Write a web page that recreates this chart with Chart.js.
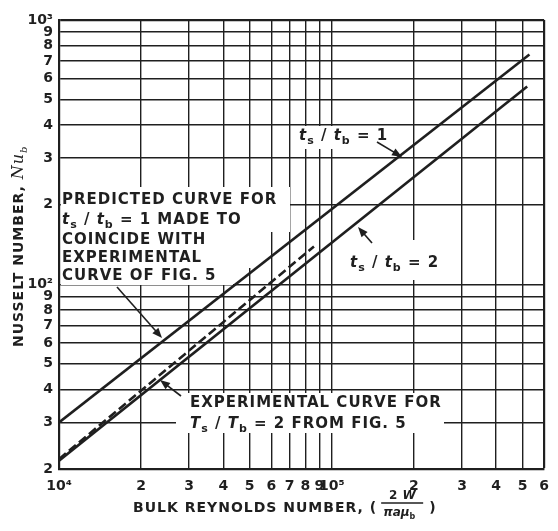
<!DOCTYPE html>
<html>
<head>
<meta charset="utf-8">
<script src="https://cdn.jsdelivr.net/npm/chart.js@4.4.0/dist/chart.umd.min.js"></script>
<style>
  html, body { margin: 0; padding: 0; background: #fff; }
</style>
</head>
<body>
<canvas id="nusseltChart" width="558" height="531"></canvas>
<script>
// Axis ticks (log-log paper)
const reTicks = [1e4, 2e4, 3e4, 4e4, 5e4, 6e4, 7e4, 8e4, 9e4, 1e5, 2e5, 3e5, 4e5, 5e5, 6e5];
const reTickLabels = ['10⁴', '2', '3', '4', '5', '6', '7', '8', '9', '10⁵', '2', '3', '4', '5', '6'];
const nuTicks = [20, 30, 40, 50, 60, 70, 80, 90, 100, 200, 300, 400, 500, 600, 700, 800, 900, 1000];
const nuTickLabels = ['2', '3', '4', '5', '6', '7', '8', '9', '10²', '2', '3', '4', '5', '6', '7', '8', '9', '10³'];

// Curves (straight lines on log-log paper)
const rePredicted1 = [1e4, 5.3e5];      // t_s/t_b = 1
const nuPredicted1 = [30, 740];
const rePredicted2 = [1e4, 5.2e5];      // t_s/t_b = 2
const nuPredicted2 = [21.5, 560];
const reExperimental = [1e4, 8.6e4];    // experimental curve, fig. 5
const nuExperimental = [21.8, 139];

const INK = '#1f1f1f';
const FONT = '"DejaVu Sans", sans-serif';

function toPoints(xs, ys) {
  return xs.map((x, i) => ({ x: x, y: ys[i] }));
}

// draws a row of text pieces: {t, italic, sub}
function drawRich(ctx, x, y, parts, size) {
  let cx = x;
  parts.forEach(p => {
    const s = p.sub ? Math.round(size * 0.7) : size;
    ctx.font = (p.italic ? 'italic ' : '') + 'bold ' + s + 'px ' + FONT;
    const dy = p.sub ? size * 0.35 : 0;
    ctx.fillText(p.t, cx, y + dy);
    cx += ctx.measureText(p.t).width;
  });
  return cx;
}

function arrow(ctx, x1, y1, x2, y2) {
  const a = Math.atan2(y2 - y1, x2 - x1);
  ctx.beginPath();
  ctx.moveTo(x1, y1);
  ctx.lineTo(x2 - 6 * Math.cos(a), y2 - 6 * Math.sin(a));
  ctx.stroke();
  ctx.beginPath();
  ctx.moveTo(x2, y2);
  ctx.lineTo(x2 - 10 * Math.cos(a) + 4 * Math.sin(a), y2 - 10 * Math.sin(a) - 4 * Math.cos(a));
  ctx.lineTo(x2 - 10 * Math.cos(a) - 4 * Math.sin(a), y2 - 10 * Math.sin(a) + 4 * Math.cos(a));
  ctx.closePath();
  ctx.fill();
}

const ts = (sub) => [{ t: 't', italic: true }, { t: sub, sub: true }];

// white patches behind the lettering, cutting the grid like on the original
const labelPatches = {
  id: 'labelPatches',
  beforeDatasetsDraw(chart) {
    const ctx = chart.ctx;
    ctx.save();
    ctx.fillStyle = '#fff';
    ctx.fillRect(61, 187, 229, 45);
    ctx.fillRect(61, 232, 196, 36);
    ctx.fillRect(61, 268, 172, 17);
    ctx.fillRect(176, 393, 268, 40);
    ctx.fillRect(296, 126, 96, 23);
    ctx.fillRect(345, 240, 92, 40);
    ctx.restore();
  }
};

const lettering = {
  id: 'lettering',
  afterDatasetsDraw(chart) {
    const ctx = chart.ctx;
    ctx.save();
    ctx.fillStyle = INK;
    ctx.strokeStyle = INK;
    ctx.textBaseline = 'middle';
    ctx.textAlign = 'left';
    ctx.letterSpacing = '1px';
    const sz = 15;

    drawRich(ctx, 62, 200, [{ t: 'PREDICTED CURVE FOR' }], sz);
    drawRich(ctx, 62, 220, ts('s').concat([{ t: ' / ' }], ts('b'), [{ t: ' = 1 MADE TO' }]), sz);
    drawRich(ctx, 62, 240, [{ t: 'COINCIDE WITH' }], sz);
    drawRich(ctx, 62, 258, [{ t: 'EXPERIMENTAL' }], sz);
    drawRich(ctx, 62, 276, [{ t: 'CURVE OF FIG. 5' }], sz);

    drawRich(ctx, 190, 403, [{ t: 'EXPERIMENTAL CURVE FOR' }], sz);
    drawRich(ctx, 190, 424, [{ t: 'T', italic: true }, { t: 's', sub: true }, { t: ' / ' },
      { t: 'T', italic: true }, { t: 'b', sub: true }, { t: ' = 2 FROM FIG. 5' }], sz);

    drawRich(ctx, 299, 136, ts('s').concat([{ t: ' / ' }], ts('b'), [{ t: ' = 1' }]), sz);
    drawRich(ctx, 350, 263, ts('s').concat([{ t: ' / ' }], ts('b'), [{ t: ' = 2' }]), sz);

    ctx.lineWidth = 1.6;
    arrow(ctx, 377, 142, 402, 157);
    arrow(ctx, 372, 243, 358, 227);
    arrow(ctx, 117, 287, 162, 338);
    arrow(ctx, 181, 396, 160, 380);

    // x axis title with the fraction
    ctx.letterSpacing = '1px';
    let x = drawRich(ctx, 133, 508, [{ t: 'BULK REYNOLDS NUMBER, (' }], 14);
    ctx.letterSpacing = '0px';
    ctx.textAlign = 'center';
    ctx.font = 'bold 12px ' + FONT;
    const fx = x + 24;
    ctx.fillText('2 ', fx - 6, 496);
    ctx.font = 'italic bold 12px ' + FONT;
    ctx.fillText('W', fx + 8, 496);
    ctx.lineWidth = 1.3;
    ctx.beginPath();
    ctx.moveTo(x + 4, 503);
    ctx.lineTo(x + 46, 503);
    ctx.stroke();
    ctx.textAlign = 'left';
    drawRich(ctx, x + 6, 513, [{ t: 'π', italic: true }, { t: 'a', italic: true }, { t: 'μ', italic: true }, { t: 'b', sub: true }], 12);
    ctx.font = 'bold 14px ' + FONT;
    ctx.fillText(')', x + 52, 508);

    // y axis title, rotated
    ctx.translate(19, 347);
    ctx.rotate(-Math.PI / 2);
    ctx.letterSpacing = '1px';
    let yx = drawRich(ctx, 0, 0, [{ t: 'NUSSELT NUMBER, ' }], 14);
    ctx.font = 'italic 16px "DejaVu Serif", serif';
    ctx.fillText('Nu', yx, 0);
    yx += ctx.measureText('Nu').width;
    ctx.font = 'italic 10px "DejaVu Serif", serif';
    ctx.fillText('b', yx, 5);
    ctx.restore();
  }
};

const ctx = document.getElementById('nusseltChart').getContext('2d');
const nusseltChart = new Chart(ctx, {
  type: 'line',
  data: {
    datasets: [
      {
        label: 't_s/t_b = 1',
        data: toPoints(rePredicted1, nuPredicted1),
        borderColor: INK,
        borderWidth: 2.6,
        pointRadius: 0
      },
      {
        label: 't_s/t_b = 2',
        data: toPoints(rePredicted2, nuPredicted2),
        borderColor: INK,
        borderWidth: 2.6,
        pointRadius: 0
      },
      {
        label: 'Experimental T_s/T_b = 2',
        data: toPoints(reExperimental, nuExperimental),
        borderColor: INK,
        borderWidth: 2.6,
        borderDash: [9, 4],
        pointRadius: 0
      }
    ]
  },
  options: {
    responsive: false,
    animation: false,
    layout: { padding: { top: 20, right: 7, left: 0, bottom: 0 } },
    plugins: {
      legend: { display: false },
      tooltip: { enabled: false }
    },
    scales: {
      x: {
        type: 'logarithmic',
        min: 1e4,
        max: 6e5,
        afterBuildTicks: (scale) => { scale.ticks = reTicks.map(v => ({ value: v })); },
        afterFit: (scale) => { scale.height = 62; },
        ticks: {
          autoSkip: false,
          maxRotation: 0,
          padding: 9,
          color: INK,
          font: { family: FONT, size: 14, weight: 'bold' },
          callback: (value, index) => reTickLabels[index]
        },
        grid: {
          color: INK,
          drawTicks: false,
          lineWidth: (c) => (c.tick && c.tick.value === 6e5 ? 2.2 : 1.4)
        },
        border: { display: true, color: INK, width: 2.2 }
      },
      y: {
        type: 'logarithmic',
        min: 20,
        max: 1000,
        afterBuildTicks: (scale) => { scale.ticks = nuTicks.map(v => ({ value: v })); },
        afterFit: (scale) => { scale.width = 59; },
        ticks: {
          autoSkip: false,
          padding: 6,
          color: INK,
          font: { family: FONT, size: 14, weight: 'bold' },
          callback: (value, index) => nuTickLabels[index]
        },
        grid: {
          color: INK,
          drawTicks: false,
          lineWidth: (c) => (c.tick && c.tick.value === 1000 ? 2.2 : 1.4)
        },
        border: { display: true, color: INK, width: 2.2 }
      }
    }
  },
  plugins: [labelPatches, lettering]
});
</script>
</body>
</html>
